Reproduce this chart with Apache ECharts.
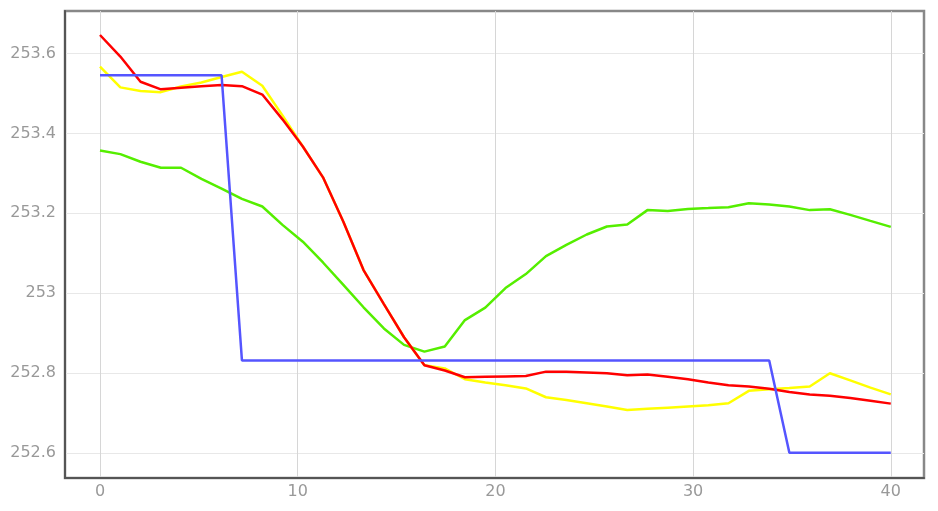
<!DOCTYPE html>
<html>
<head>
<meta charset="utf-8">
<script src="https://cdn.jsdelivr.net/npm/echarts@6/dist/echarts.min.js"></script>
<style>
  html, body { margin: 0; padding: 0; background: #fff; }
  #chart { width: 938px; height: 511px; }
</style>
</head>
<body>
<div id="chart"></div>
<script>
// sample positions along the x axis (40 samples over 0..40)
var xs = [0, 1.03, 2.05, 3.08, 4.10, 5.13, 6.15, 7.18, 8.21, 9.23,
  10.26, 11.28, 12.31, 13.33, 14.36, 15.38, 16.41, 17.44, 18.46, 19.49,
  20.51, 21.54, 22.56, 23.59, 24.62, 25.64, 26.67, 27.69, 28.72, 29.74,
  30.77, 31.79, 32.82, 33.85, 34.87, 35.90, 36.92, 37.95, 38.97, 40];

var green = [253.357, 253.348, 253.329, 253.314, 253.314, 253.286, 253.262, 253.236, 253.217, 253.171,
  253.129, 253.077, 253.021, 252.965, 252.912, 252.871, 252.854, 252.867, 252.933, 252.964,
  253.013, 253.048, 253.093, 253.121, 253.147, 253.167, 253.172, 253.208, 253.206, 253.211,
  253.213, 253.215, 253.225, 253.222, 253.217, 253.208, 253.210, 253.196, 253.181, 253.166];

var yellow = [253.567, 253.515, 253.506, 253.503, 253.517, 253.527, 253.541, 253.554, 253.519, 253.445,
  253.367, 253.290, 253.179, 253.058, 252.973, 252.890, 252.820, 252.812, 252.785, 252.777,
  252.770, 252.762, 252.740, 252.733, 252.725, 252.717, 252.708, 252.711, 252.714, 252.717,
  252.720, 252.725, 252.756, 252.760, 252.763, 252.767, 252.800, 252.782, 252.764, 252.747];

var red = [253.646, 253.592, 253.529, 253.510, 253.514, 253.518, 253.521, 253.518, 253.497, 253.435,
  253.367, 253.290, 253.179, 253.058, 252.973, 252.890, 252.820, 252.807, 252.790, 252.791,
  252.792, 252.793, 252.804, 252.804, 252.802, 252.800, 252.795, 252.797, 252.791, 252.785,
  252.777, 252.770, 252.767, 252.761, 252.753, 252.747, 252.744, 252.738, 252.731, 252.724];

var blue = [253.545, 253.545, 253.545, 253.545, 253.545, 253.545, 253.545, 252.832, 252.832, 252.832,
  252.832, 252.832, 252.832, 252.832, 252.832, 252.832, 252.832, 252.832, 252.832, 252.832,
  252.832, 252.832, 252.832, 252.832, 252.832, 252.832, 252.832, 252.832, 252.832, 252.832,
  252.832, 252.832, 252.832, 252.832, 252.601, 252.601, 252.601, 252.601, 252.601, 252.601];

var xTicks = [0, 10, 20, 30, 40];
var yTicks = [252.6, 252.8, 253, 253.2, 253.4, 253.6];

function pairs(ys) {
  return xs.map(function (x, i) { return [x, ys[i]]; });
}

function line(name, color, ys) {
  return {
    name: name,
    type: 'line',
    data: pairs(ys),
    showSymbol: false,
    symbol: 'none',
    lineStyle: { color: color, width: 2.5 },
    itemStyle: { color: color },
    animation: false
  };
}

var chart = echarts.init(document.getElementById('chart'));
chart.setOption({
  backgroundColor: '#fff',
  grid: {
    left: 65, right: 14, top: 11, bottom: 33,
    show: true,
    borderColor: '#888',
    borderWidth: 2.5
  },
  xAxis: {
    type: 'value',
    min: -1.77,
    max: 41.68,
    axisLine: { show: true, onZero: false, lineStyle: { color: '#555', width: 2 } },
    axisTick: { show: false, customValues: xTicks },
    axisLabel: {
      customValues: xTicks,
      color: '#999',
      fontFamily: 'DejaVu Sans',
      fontSize: 16,
      margin: 6
    },
    splitLine: { show: true, lineStyle: { color: '#d6d6d6', width: 1 } }
  },
  yAxis: {
    type: 'value',
    min: 252.538,
    max: 253.706,
    axisLine: { show: true, onZero: false, lineStyle: { color: '#555', width: 2 } },
    axisTick: { show: false, customValues: yTicks },
    axisLabel: {
      customValues: yTicks,
      color: '#999',
      fontFamily: 'DejaVu Sans',
      fontSize: 16,
      margin: 9,
      formatter: function (v) { return String(+v.toFixed(1)); }
    },
    splitLine: { show: true, lineStyle: { color: '#e8e8e8', width: 1 } }
  },
  series: [
    line('green', '#55ee00', green),
    line('yellow', '#ffff00', yellow),
    line('red', '#ff0000', red),
    line('blue', '#5555ff', blue)
  ]
});
</script>
</body>
</html>
